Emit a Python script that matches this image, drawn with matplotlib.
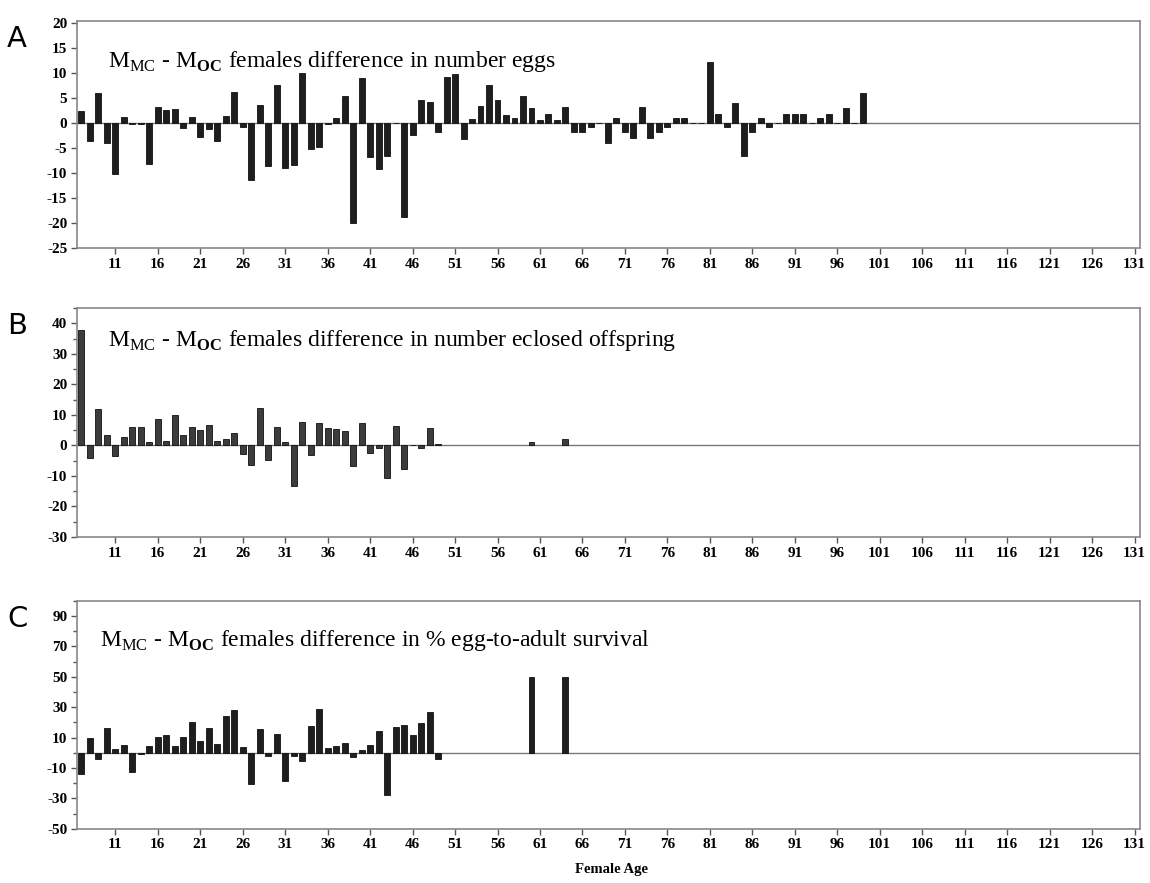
import numpy as np
from matplotlib import pyplot as plt
from matplotlib.ticker import MultipleLocator

plt.rcParams['font.family'] = ['Liberation Serif', 'DejaVu Serif']
plt.rcParams['mathtext.fontset'] = 'custom'
plt.rcParams['mathtext.rm'] = 'Liberation Serif'
plt.rcParams['mathtext.bf'] = 'Liberation Serif:bold'
plt.rcParams['axes.unicode_minus'] = False

# difference in number of eggs, ages 7..99
ages_eggs = list(range(7, 100))
diff_eggs = [2.3, -3.7, 5.9, -4.1, -10.2, 1.1, -0.2, -0.3, -8.2, 3.1,
             2.5, 2.7, -1.1, 1.1, -2.9, -1.3, -3.7, 1.3, 6.1, -0.8,
             -11.4, 3.5, -8.7, 7.5, -9.0, -8.5, 10.0, -5.3, -4.9, -0.2,
             0.9, 5.4, -20.0, 8.9, -6.8, -9.3, -6.6, 0, -18.7, -2.5,
             4.5, 4.1, -1.8, 9.1, 9.8, -3.2, 0.7, 3.3, 7.6, 4.6,
             1.6, 1.0, 5.3, 3.0, 0.6, 1.8, 0.6, 3.1, -1.8, -1.8,
             -0.8, 0, -4.0, 1.0, -1.8, -3.0, 3.1, -3.0, -1.8, -0.9,
             1.0, 1.0, 0, 0, 12.1, 1.8, -0.9, 4.0, -6.7, -1.8,
             1.0, -0.9, 0, 1.8, 1.8, 1.8, 0, 1.0, 1.8, 0,
             3.0, 0, 5.9]

# difference in number of eclosed offspring
ages_ecl = list(range(7, 50)) + [60, 64]
diff_ecl = [38, -4.1, 12, 3.3, -3.4, 2.9, 6.0, 6.0, 1.1, 8.6,
            1.3, 10, 3.3, 6.0, 4.9, 6.7, 1.3, 2.2, 4.0, -2.7,
            -6.3, 12.3, -4.9, 6.0, 1.2, -13.3, 7.8, -3.0, 7.2, 5.7,
            5.3, 4.6, -6.6, 7.5, -2.4, -1.0, -10.8, 6.3, -7.9, 0,
            -0.7, 5.7, 0.3, 1.0, 2.1]

# difference in % egg-to-adult survival
ages_surv = list(range(7, 50)) + [60, 64]
diff_surv = [-14.3, 9.4, -4.2, 16, 2.4, 5.0, -12.7, -0.5, 4.4, 10.5,
             11.4, 4.4, 10.7, 20.4, 7.7, 16, 5.9, 24.1, 28.1, 3.7,
             -20.8, 15.8, -2.2, 12.3, -18.4, -2.2, -5.3, 17.3, 28.7, 2.9,
             4.4, 6.6, -2.6, 2.0, 5.0, 14.5, -27.6, 16.7, 18.6, 11.6,
             19.7, 26.8, -4.4, 50, 50]

xticks = list(range(11, 132, 5))

titles = [r'M$_{\rm MC}$ - M$_{\bf OC}$ females difference in number eggs',
          r'M$_{\rm MC}$ - M$_{\bf OC}$ females difference in number eclosed offspring',
          r'M$_{\rm MC}$ - M$_{\bf OC}$ females difference in % egg-to-adult survival']

fig = plt.figure(figsize=(11.5, 8.83), dpi=100)

# [left, bottom, width, height] for A, B, C
boxes = [[0.067, 0.719, 0.924, 0.257],
         [0.067, 0.392, 0.924, 0.259],
         [0.067, 0.0615, 0.924, 0.258]]

panels = [(ages_eggs, diff_eggs, '#1e1e1e', (-25, 20.3), 'A'),
          (ages_ecl, diff_ecl, '#3c3c3c', (-30, 45), 'B'),
          (ages_surv, diff_surv, '#1e1e1e', (-50, 100), 'C')]

title_y = [0.80, 0.835, 0.80]
title_x = [0.029, 0.029, 0.022]

for i, (box, (x, y, col, ylim, letter)) in enumerate(zip(boxes, panels)):
    ax = fig.add_axes(box)
    ax.bar(x, y, width=0.7, color=col, edgecolor='#111111', linewidth=0.6,
           zorder=3)
    ax.axhline(0, color='#777777', lw=1.0, zorder=2)
    ax.set_xlim(6.5, 131.6)
    ax.set_ylim(*ylim)
    ax.set_xticks(xticks)
    ax.set_xticklabels([str(t) for t in xticks])

    if letter == 'A':
        ax.set_yticks(range(-25, 21, 5))
    elif letter == 'B':
        ax.set_yticks(range(-30, 41, 10))
        ax.yaxis.set_minor_locator(MultipleLocator(5))
    else:
        ax.set_yticks(range(-50, 91, 20))
        ax.yaxis.set_minor_locator(MultipleLocator(10))

    for s in ax.spines.values():
        s.set_color('#888888')
        s.set_linewidth(1.2)
    ax.tick_params(axis='both', length=4, width=1, color='#555555',
                   labelsize=11, pad=3)
    ax.tick_params(axis='y', which='minor', length=3, width=1,
                   color='#555555')
    for lab in ax.get_xticklabels() + ax.get_yticklabels():
        lab.set_fontweight('bold')

    ax.text(title_x[i], title_y[i], titles[i], transform=ax.transAxes,
            fontsize=17, ha='left', va='baseline')

    fig.text(0.006, box[1] + box[3] - 0.02, letter, fontsize=21,
             family='DejaVu Sans', ha='left', va='center')

fig.text(0.532, 0.008, 'Female Age', fontsize=10.5, fontweight='bold',
         ha='center', va='bottom')

plt.savefig('out.png', dpi=100)
